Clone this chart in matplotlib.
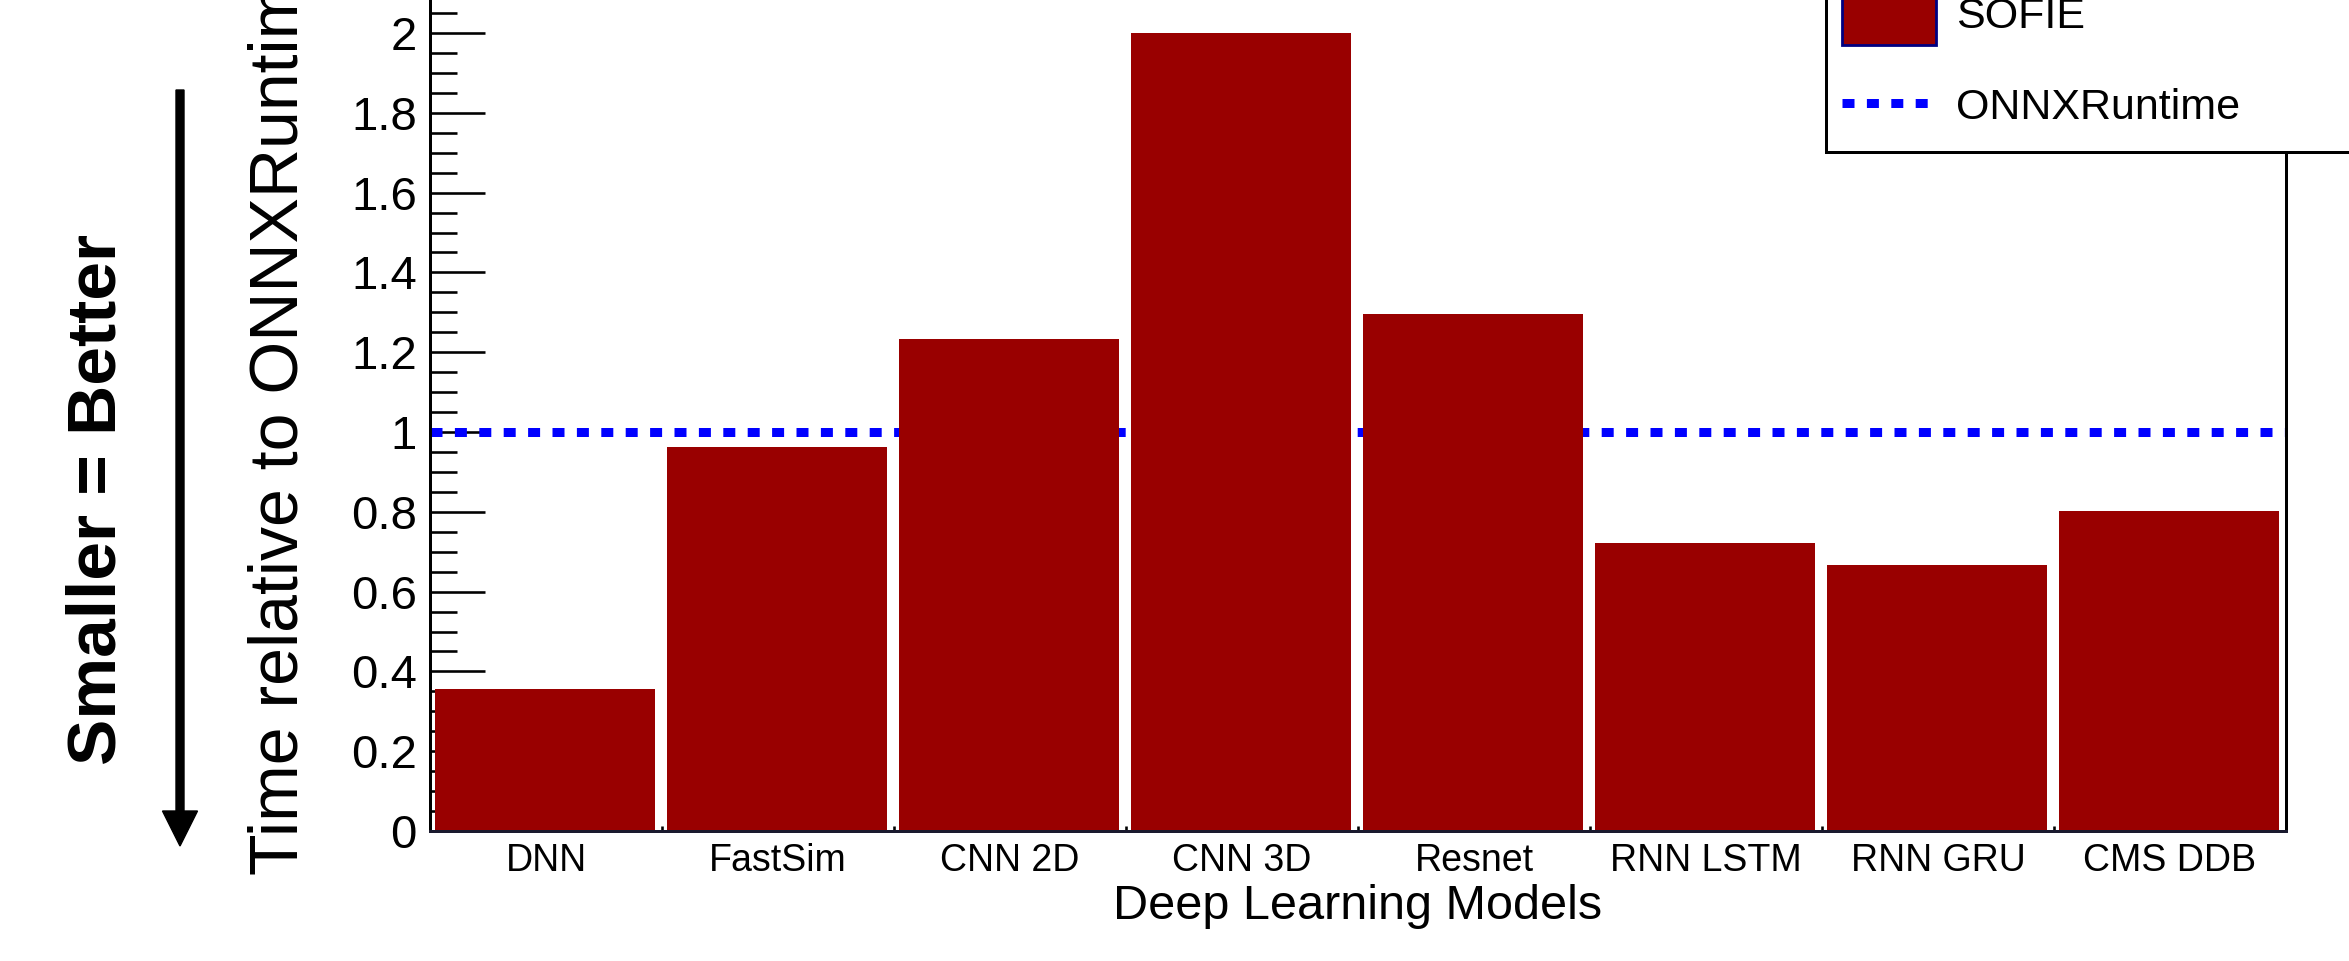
import numpy as np
import matplotlib
matplotlib.use("Agg")
import matplotlib.pyplot as plt
from matplotlib.patches import Patch, FancyArrow
from matplotlib.lines import Line2D
from matplotlib.legend_handler import HandlerLine2D
from matplotlib.ticker import MultipleLocator, FuncFormatter
from matplotlib.transforms import IdentityTransform

plt.rcParams['font.family'] = ['Liberation Sans', 'DejaVu Sans']

# ---- data ----
models = ['DNN', 'FastSim', 'CNN 2D', 'CNN 3D', 'Resnet', 'RNN LSTM', 'RNN GRU', 'CMS DDB']
sofie_rel = [0.355, 0.963, 1.232, 2.0, 1.296, 0.721, 0.666, 0.802]
onnx_ref = 1.0
legend_labels = ['SOFIE', 'ONNXRuntime']
xlabel = 'Deep Learning Models'
ylabel = 'Time relative to ONNXRuntime'
side_note = 'Smaller = Better'

W, H = 2349, 961
DPI = 100
fig = plt.figure(figsize=(W / DPI, H / DPI), dpi=DPI)
px = 72 / DPI

# axes placement (pixels)
ax_l, ax_r, ax_b = 430, 2286, 831
unit = 399.0
ytop = 2.2
ax = fig.add_axes([ax_l / W, (H - ax_b) / H, (ax_r - ax_l) / W, ytop * unit / H])

bar_color = '#990000'
x = np.arange(len(models))
ax.bar(x + 0.02, sofie_rel, width=0.95, align='edge', color=bar_color,
       linewidth=0, zorder=3)

lw_px = 9.0
lw_pt = lw_px * px
dash = (12.0 / lw_px, 12.4 / lw_px)
ax.axhline(onnx_ref, color='blue', lw=lw_pt, dashes=dash,
           dash_capstyle='butt', zorder=2.6)

ax.set_xlim(0, len(models))
ax.set_ylim(0, ytop)

# y axis ticks
ax.yaxis.set_major_locator(MultipleLocator(0.2))
ax.yaxis.set_minor_locator(MultipleLocator(0.05))
ax.yaxis.set_major_formatter(FuncFormatter(lambda v, p: '%g' % round(v, 3)))
ax.tick_params(axis='y', which='major', direction='in', length=55 * px,
               width=2.6 * px, pad=13 * px, labelsize=34, right=False)
ax.tick_params(axis='y', which='minor', direction='in', length=27 * px,
               width=2.6 * px, right=False)

# x axis: labels at bin centres, small ticks at bin edges
ax.set_xticks(x + 0.5)
ax.set_xticklabels(models)
ax.set_xticks(np.arange(len(models) + 1), minor=True)
ax.tick_params(axis='x', which='major', length=0, pad=12 * px, labelsize=27, top=False)
ax.tick_params(axis='x', which='minor', direction='in', length=5 * px,
               width=2.6 * px, top=False)

for s in ax.spines.values():
    s.set_linewidth(3 * px)
    s.set_zorder(4)
ax.spines['bottom'].set_color('#1a1a2e')

ax.set_xlabel(xlabel, fontsize=35, labelpad=5 * px)


# legend
class ShiftedLineHandler(HandlerLine2D):
    def __init__(self, shift, **kw):
        super().__init__(**kw)
        self._shift = shift

    def create_artists(self, legend, orig_handle, xdescent, ydescent, width,
                       height, fontsize, trans):
        arts = super().create_artists(legend, orig_handle, xdescent, ydescent,
                                      width, height, fontsize, trans)
        for a in arts:
            if isinstance(a, Line2D):
                a.set_ydata(np.asarray(a.get_ydata()) - self._shift)
        return arts


fs_leg = 31
em = fs_leg / 72 * DPI
bpad = 16
patch_h = 65.0
line_handle = Line2D([], [], color='blue', lw=lw_pt, dashes=dash, dash_capstyle='butt')
handles = [Patch(facecolor=bar_color, edgecolor='#000080', linewidth=2), line_handle]
leg = ax.legend(handles, legend_labels, loc='lower left',
                bbox_to_anchor=((1842 - bpad) / W, (H - 136 - bpad) / H,
                                (2500 - 1842 + bpad) / W, 0.2),
                bbox_transform=fig.transFigure, mode='expand', borderaxespad=0,
                fontsize=fs_leg, handlelength=94 / em,
                handleheight=(patch_h + 0.35 * em) / em,
                handletextpad=20 / em, labelspacing=28 / em, borderpad=bpad / em,
                frameon=True, fancybox=False, edgecolor='black', framealpha=1,
                handler_map={line_handle: ShiftedLineHandler(7 * px)})
leg.get_frame().set_linewidth(3 * px)

# rotated texts
fig.text(298 / W, (H - 875) / H, ylabel, rotation=90, rotation_mode='anchor',
         ha='left', va='baseline', fontsize=49)
fig.text(115 / W, (H - 765) / H, side_note, rotation=90, rotation_mode='anchor',
         ha='left', va='baseline', fontsize=50, fontweight='bold')

# arrow
arr = FancyArrow(180, H - 90, 0, -(846 - 90), width=8, head_width=35,
                 head_length=35, length_includes_head=True, color='black',
                 transform=IdentityTransform())
fig.add_artist(arr)

fig.savefig('out.png', dpi=DPI)
